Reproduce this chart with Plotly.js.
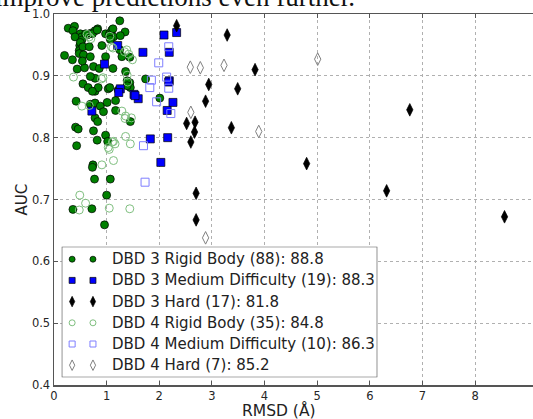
<!DOCTYPE html>
<html>
<head>
<meta charset="utf-8">
<script src="https://cdn.plot.ly/plotly-3.0.1.min.js"></script>
<style>
html,body{margin:0;padding:0;background:#fff;}
#chart{width:533px;height:419px;}
</style>
</head>
<body>
<div id="chart"></div>
<script>
// DBD 3 Rigid Body (88)
const rigid3X = [1.25,0.27,0.39,0.36,0.50,0.53,0.63,0.70,0.78,0.83,0.98,1.06,1.10,1.35,1.13,0.49,0.48,0.48,0.20,0.56,0.91,0.98,1.25,1.29,1.44,0.40,0.53,0.50,0.55,0.67,
0.44,0.58,0.75,1.12,0.78,0.69,1.36,0.55,0.65,0.78,1.03,1.44,1.45,1.39,1.74,0.86,0.84,1.06,0.73,1.22,1.39,
0.42,0.69,0.78,0.88,1.01,1.17,1.17,0.94,0.78,0.83,1.45,0.41,0.46,0.75,0.82,0.98,1.02,0.43,2.01,
0.74,0.73,0.77,1.07,1.00,0.36,0.72,0.96,
0.60,0.73,0.82,1.12,1.05,1.07,1.26,0.35,0.54,0.69];
const rigid3Y = [0.989,0.977,0.980,0.973,0.968,0.963,0.966,0.969,0.973,0.976,0.968,0.969,0.974,0.971,0.963,0.949,0.941,0.936,0.933,0.934,0.949,0.931,0.942,0.931,0.930,0.963,0.958,0.954,0.947,0.947,
0.911,0.913,0.915,0.912,0.896,0.899,0.907,0.887,0.881,0.875,0.879,0.889,0.881,0.892,0.895,0.912,0.881,0.881,0.875,0.877,0.884,
0.859,0.854,0.856,0.851,0.857,0.860,0.844,0.842,0.832,0.826,0.826,0.817,0.814,0.811,0.796,0.804,0.794,0.787,0.864,
0.756,0.752,0.733,0.733,0.707,0.684,0.685,0.659,
0.968,0.968,0.974,0.976,0.965,0.959,0.965,0.926,0.924,0.931];

// DBD 3 Medium Difficulty (19)
const medium3X = [2.33,2.09,1.69,2.19,2.19,1.52,1.60,2.26,2.15,1.83,2.16,2.03,1.21,0.96,1.26,1.23,0.72,2.18,1.54];
const medium3Y = [0.970,0.966,0.938,0.938,0.892,0.870,0.863,0.857,0.844,0.798,0.800,0.760,0.949,0.919,0.879,0.873,0.843,0.890,0.868];

// DBD 3 Hard (17)
const hard3X = [2.33,3.29,3.82,2.94,3.49,2.88,2.52,2.68,2.67,2.60,3.37,4.80,2.70,2.70,6.76,6.32,8.56];
const hard3Y = [0.981,0.966,0.910,0.886,0.879,0.859,0.823,0.825,0.809,0.793,0.816,0.758,0.710,0.667,0.845,0.714,0.672];

// DBD 4 Rigid Body (35)
const rigid4X = [0.67,1.09,1.38,1.49,1.34,0.37,0.90,0.53,1.29,1.35,1.13,1.36,1.45,1.05,1.13,0.91,1.11,1.03,0.49,0.60,0.48,1.05,1.44,1.47,0.63,1.06,1.39,1.40,0.67,1.12,1.36,0.70,1.42,1.16,0.93];
const rigid4Y = [0.963,0.947,0.942,0.926,0.939,0.898,0.895,0.851,0.843,0.831,0.794,0.802,0.790,0.781,0.763,0.756,0.793,0.784,0.707,0.694,0.683,0.686,0.685,0.832,0.967,0.964,0.901,0.890,0.852,0.945,0.835,0.960,0.935,0.790,0.897];

// DBD 4 Medium Difficulty (10)
const medium4X = [2.18,1.99,1.85,2.14,1.82,2.18,1.95,2.22,1.70,1.73];
const medium4Y = [0.947,0.921,0.893,0.898,0.881,0.880,0.858,0.839,0.787,0.728];

// DBD 4 Hard (7)
const hard4X = [2.59,2.78,3.23,5.01,2.60,3.89,2.88];
const hard4Y = [0.914,0.913,0.917,0.927,0.841,0.810,0.638];

const seriesNames = [
  "DBD 3 Rigid Body (88): 88.8",
  "DBD 3 Medium Difficulty (19): 88.3",
  "DBD 3 Hard (17): 81.8",
  "DBD 4 Rigid Body (35): 84.8",
  "DBD 4 Medium Difficulty (10): 86.3",
  "DBD 4 Hard (7): 85.2"
];
const xTicks = [0,1,2,3,4,5,6,7,8];
const yTicks = [0.4,0.5,0.6,0.7,0.8,0.9,1.0];
const yTickText = ["0.4","0.5","0.6","0.7","0.8","0.9","1.0"];

const seriesX = [rigid3X, medium3X, hard3X, rigid4X, medium4X, hard4X];
const seriesY = [rigid3Y, medium3Y, hard3Y, rigid4Y, medium4Y, hard4Y];
const styles = [
  {symbol: 'circle', size: 8, color: '#008000', line: {color: '#000', width: 0.7}},
  {symbol: 'square', size: 8, color: '#0000ff', line: {color: '#000', width: 0.7}},
  {symbol: 'diamond-tall', size: 9, color: '#000000', line: {color: '#000', width: 0.7}},
  {symbol: 'circle-open', size: 8, color: '#7fbf7f', line: {width: 1}},
  {symbol: 'square-open', size: 8, color: '#7f7fff', line: {width: 1}},
  {symbol: 'diamond-tall-open', size: 9, color: '#808080', line: {width: 1}}
];
const legendSizes = [6, 6, 7.5, 6, 6, 7.5];

const traces = [];
for (let i = 0; i < 6; i++) {
  traces.push({x: seriesX[i], y: seriesY[i], name: seriesNames[i], type: 'scatter', mode: 'markers',
    marker: styles[i], showlegend: false, xaxis: 'x', yaxis: 'y'});
}
// matplotlib-style legend (two sample markers per entry) drawn in a small hidden key axis
const keyMarkX = [0.033, 0.099];
for (let i = 0; i < 6; i++) {
  const m = Object.assign({}, styles[i], {size: legendSizes[i]});
  traces.push({x: keyMarkX, y: [i, i], type: 'scatter', mode: 'markers', marker: m,
    showlegend: false, hoverinfo: 'skip', xaxis: 'x2', yaxis: 'y2', cliponaxis: false});
}

const font = "DejaVu Sans, Bitstream Vera Sans, sans-serif";
const annotations = [
  {text: 'RMSD (Å)', xref: 'paper', yref: 'paper', x: 0.469, y: -0.0674,
   xanchor: 'center', yanchor: 'middle', showarrow: false,
   font: {family: font, size: 15.5, color: '#222'}},
  {text: 'AUC', xref: 'paper', yref: 'paper', x: -0.067, y: 0.5, textangle: -90,
   xanchor: 'center', yanchor: 'middle', showarrow: false,
   font: {family: font, size: 15, color: '#222'}},
  {text: 'improve predictions even further.', xref: 'paper', yref: 'paper',
   x: -0.128, y: 1.0464, xanchor: 'left', yanchor: 'middle', showarrow: false,
   font: {family: 'Liberation Serif, Times New Roman, serif', size: 27, color: '#111'}}
];
for (let i = 0; i < 6; i++) {
  annotations.push({text: seriesNames[i], xref: 'x2', yref: 'y2', x: 0.152, y: i,
    xanchor: 'left', yanchor: 'middle', showarrow: false,
    font: {family: font, size: 15, color: '#222'}});
}

const layout = {
  width: 533, height: 419,
  margin: {l: 54, r: 0, t: 14, b: 34, pad: 0},
  paper_bgcolor: '#fff', plot_bgcolor: 'rgba(0,0,0,0)',
  font: {family: font, color: '#262626', size: 11.5},
  showlegend: false,
  xaxis: {
    range: [0, 9.101], tickvals: xTicks, ticktext: xTicks.map(String),
    showgrid: true, gridcolor: '#b0b0b0', griddash: 'dot', gridwidth: 1,
    zeroline: false, showline: true, linecolor: '#555', linewidth: 1.5, mirror: 'ticks',
    ticks: 'inside', ticklen: 4, tickcolor: '#555',
    tickfont: {family: font, size: 11.5, color: '#262626'}
  },
  yaxis: {
    range: [0.4, 1.0], tickvals: yTicks, ticktext: yTickText,
    showgrid: true, gridcolor: '#b0b0b0', griddash: 'dot', gridwidth: 1,
    zeroline: false, showline: true, linecolor: '#555', linewidth: 1.5,
    ticks: 'inside', ticklen: 4, tickcolor: '#555',
    tickfont: {family: font, size: 11.5, color: '#262626'}
  },
  xaxis2: {domain: [0.0161, 0.675], anchor: 'y2', range: [0, 1], visible: false, fixedrange: true},
  yaxis2: {domain: [0.0208, 0.3728], anchor: 'x2', range: [5.57, -0.59], visible: false, fixedrange: true},
  shapes: [
    {type: 'rect', xref: 'x2', yref: 'y2', x0: 0, x1: 1, y0: -0.59, y1: 5.57,
     fillcolor: '#ffffff', line: {color: '#555', width: 1.3}, layer: 'between'}
  ],
  annotations: annotations
};

Plotly.newPlot('chart', traces, layout, {displayModeBar: false, staticPlot: true});
</script>
</body>
</html>
